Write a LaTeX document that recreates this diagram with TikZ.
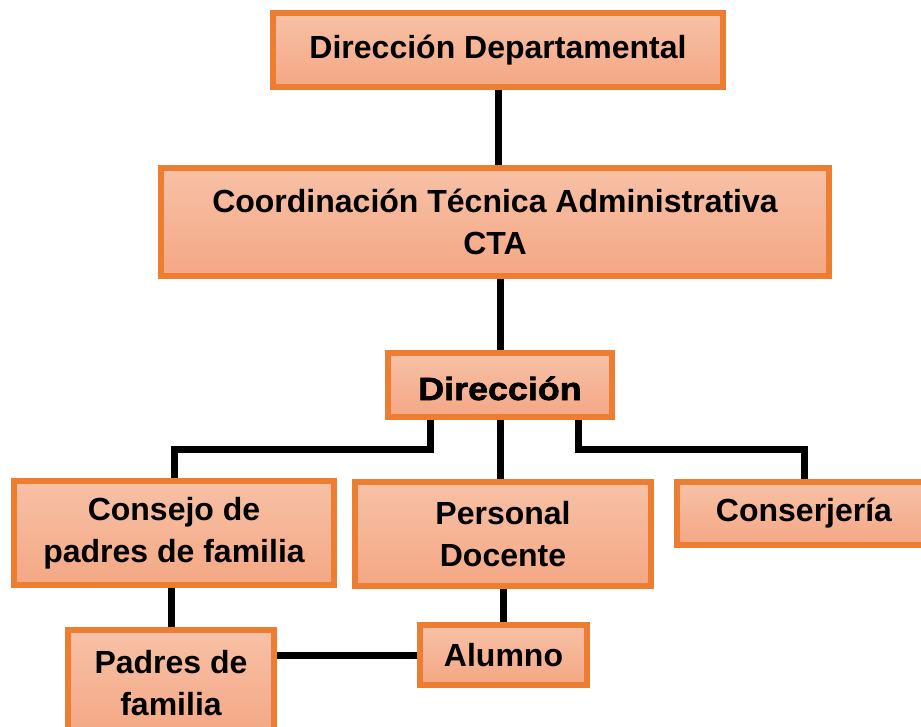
\documentclass[tikz,border=0pt]{standalone}
\usepackage{fontspec}
\setmainfont{Liberation Sans}
\newfontfamily\heavyfont[BoldFeatures={FakeBold=2,FakeStretch=1.12}]{Liberation Sans}
\definecolor{boxline}{HTML}{ED7D31}
\definecolor{boxtop}{HTML}{F7C1A6}
\definecolor{boxbot}{HTML}{F4A784}
\tikzset{
  orgbox/.style={draw=boxline, line width=6pt, top color=boxtop, bottom color=boxbot,
    align=center, inner sep=0pt, font=\fontsize{32}{42}\selectfont\bfseries},
  conn/.style={draw=black, line width=7pt, line join=miter}
}
\begin{document}
\begin{tikzpicture}[x=1pt,y=-1pt]
\useasboundingbox (0,0) rectangle (921,726);
\clip (0,0) rectangle (921,726);
\fill[white] (0,0) rectangle (921,726);
\node[orgbox, minimum width=450pt, minimum height=74pt] (d1) at (498,50) {Dirección Departamental};
\node[orgbox, minimum width=668pt, minimum height=108pt] (d2) at (495,222) {Coordinación Técnica Administrativa\\CTA};
\node[orgbox, minimum width=224pt, minimum height=64pt, text height=32pt, text depth=2pt, font=\fontsize{32}{42}\heavyfont\bfseries] (d3) at (500,385) {Dirección};
\node[orgbox, minimum width=320pt, minimum height=104pt] (d4) at (174,533) {Consejo de\\padres de familia};
\node[orgbox, minimum width=296pt, minimum height=104pt] (d5) at (503,534) {Personal\\Docente};
\node[orgbox, minimum width=254pt, minimum height=63pt] (d6) at (804,513.5) {Conserjería};
\node[orgbox, minimum width=206pt, minimum height=107pt] (d7) at (171,683.5) {Padres de\\familia};
\node[orgbox, minimum width=167pt, minimum height=60pt] (d8) at (503.5,655) {Alumno};
\coordinate (jl) at (430,449);
\coordinate (jr) at (578,449);
\draw[conn] (d1.south) -- (d1.south |- d2.north);
\draw[conn] (d2.south -| d3.north) -- (d3.north);
\draw[conn] (d3.south -| jl) -- (jl) -| (d4.north);
\draw[conn] (d3.south) -- (d3.south |- d5.north);
\draw[conn] (d3.south -| jr) -- (jr) -| (d6.north);
\draw[conn] (d7.north |- d4.south) -- (d7.north);
\draw[conn] (d5.south) -- (d5.south |- d8.north);
\draw[conn] (d7.east |- d8.west) -- (d8.west);
\end{tikzpicture}
\end{document}
